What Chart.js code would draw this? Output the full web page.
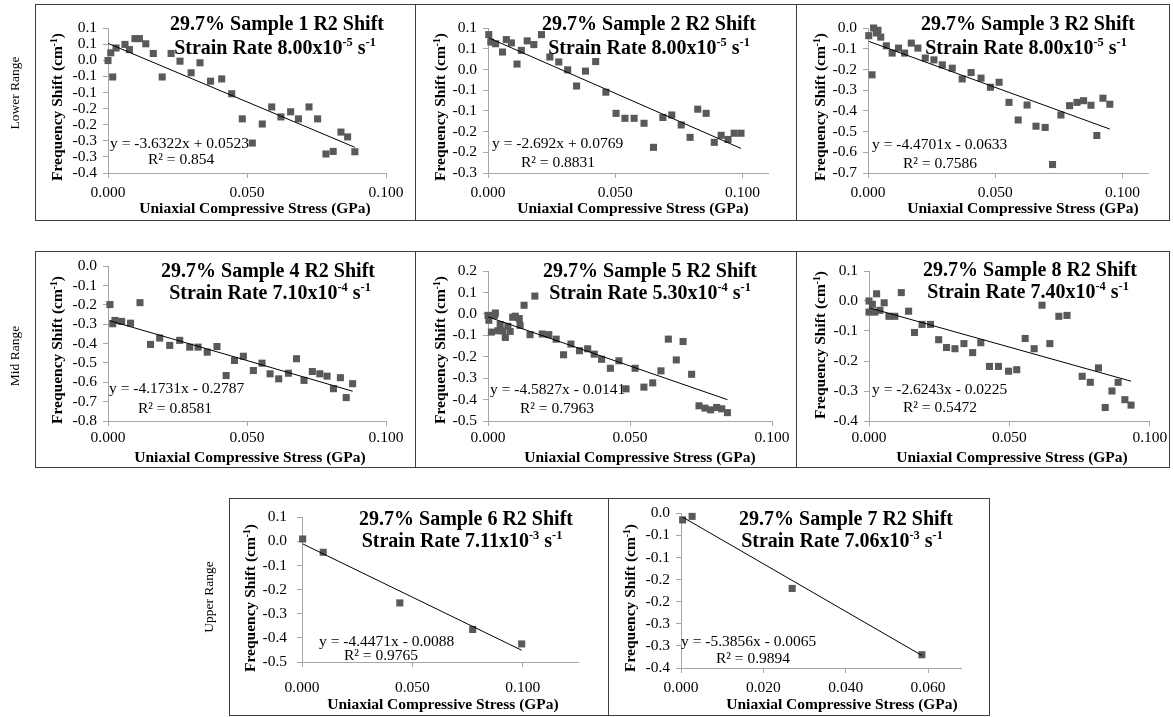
<!DOCTYPE html>
<html><head><meta charset="utf-8">
<script src="https://cdn.jsdelivr.net/npm/chart.js@4.4.1/dist/chart.umd.min.js"></script>
<style>
html,body{margin:0;padding:0;background:#fff;}
#wrap{position:relative;width:1173px;height:717px;overflow:hidden;background:#fff;font-family:"Liberation Serif","Times New Roman",Times,serif;}
.bd{position:absolute;box-sizing:border-box;border:1px solid #3f3f3f;pointer-events:none;}
.range{position:absolute;transform:translate(-50%,-50%) rotate(-90deg);white-space:nowrap;font-size:13.5px;line-height:1;color:#000;}
</style></head>
<body><div id="wrap"></div>
<script>
// ---------------- DATA ----------------
const s1x = [0.000,0.001,0.0017,0.0029,0.0061,0.0077,0.0097,0.0113,0.0136,0.0163,0.0195,0.0227,0.0259,0.0299,0.0331,0.0369,0.0409,0.0445,0.0483,0.0519,0.0555,0.0589,0.0622,0.0657,0.0685,0.0723,0.0754,0.0784,0.081,0.0838,0.0862,0.0888];
const s1y = [-0.001,0.023,-0.052,0.038,0.049,0.033,0.067,0.067,0.051,0.021,-0.052,0.021,-0.003,-0.039,-0.008,-0.065,-0.058,-0.104,-0.182,-0.257,-0.198,-0.145,-0.176,-0.160,-0.182,-0.145,-0.182,-0.291,-0.283,-0.223,-0.238,-0.284];

const s2x = [0.0003,0.0011,0.003,0.0057,0.0072,0.0092,0.0114,0.0131,0.0154,0.018,0.021,0.0243,0.0278,0.0313,0.0348,0.0383,0.0423,0.0463,0.0503,0.0538,0.0574,0.0613,0.065,0.0687,0.0722,0.0759,0.0794,0.0824,0.0857,0.0889,0.0916,0.0943,0.0967,0.0994];
const s2y = [0.084,0.066,0.062,0.042,0.072,0.064,0.013,0.046,0.069,0.060,0.084,0.030,0.018,-0.001,-0.040,-0.004,0.019,-0.055,-0.106,-0.118,-0.118,-0.130,-0.188,-0.116,-0.110,-0.134,-0.164,-0.096,-0.106,-0.176,-0.159,-0.169,-0.154,-0.154];

const s3x = [0.0003,0.0016,0.0022,0.0033,0.0039,0.0050,0.0072,0.0095,0.0120,0.0144,0.0170,0.0196,0.0225,0.0259,0.0292,0.0331,0.0370,0.0405,0.0444,0.0481,0.0515,0.0554,0.0590,0.0625,0.0660,0.0696,0.0725,0.0758,0.0792,0.0821,0.0847,0.0876,0.0899,0.0923,0.0950];
const s3y = [-0.037,-0.226,0.000,-0.024,-0.011,-0.044,-0.086,-0.121,-0.097,-0.121,-0.073,-0.097,-0.145,-0.154,-0.178,-0.194,-0.246,-0.215,-0.242,-0.286,-0.262,-0.359,-0.444,-0.372,-0.474,-0.480,-0.659,-0.420,-0.375,-0.359,-0.351,-0.373,-0.519,-0.339,-0.368];

const s4x = [0.0007,0.0017,0.0025,0.0049,0.0081,0.0115,0.0153,0.0186,0.0222,0.0258,0.0294,0.0324,0.0357,0.0392,0.0425,0.0455,0.0487,0.0523,0.0554,0.0583,0.0614,0.0649,0.0678,0.0705,0.0735,0.0762,0.0788,0.0811,0.0836,0.0857,0.0880];
const s4y = [-0.198,-0.297,-0.280,-0.285,-0.294,-0.188,-0.404,-0.371,-0.409,-0.383,-0.418,-0.418,-0.444,-0.415,-0.565,-0.487,-0.465,-0.539,-0.501,-0.556,-0.582,-0.553,-0.478,-0.590,-0.544,-0.556,-0.568,-0.633,-0.576,-0.679,-0.607];

const s5x = [0.000,0.0003,0.0012,0.0023,0.0026,0.0035,0.0043,0.0052,0.0061,0.0070,0.0078,0.0087,0.0096,0.0110,0.0113,0.0127,0.0148,0.0165,0.0191,0.0214,0.0240,0.0266,0.0292,0.0322,0.0351,0.0374,0.0400,0.0431,0.0461,0.0486,0.0518,0.0549,0.0580,0.0609,0.0635,0.0663,0.0687,0.0717,0.0743,0.0764,0.0784,0.0805,0.0823,0.0843];
const s5y = [-0.007,-0.030,-0.085,-0.007,0.004,-0.079,-0.050,-0.079,-0.110,-0.058,-0.082,-0.016,-0.011,-0.022,-0.054,0.040,-0.097,0.083,-0.094,-0.097,-0.118,-0.191,-0.141,-0.172,-0.163,-0.188,-0.212,-0.254,-0.219,-0.350,-0.254,-0.342,-0.322,-0.266,-0.118,-0.215,-0.129,-0.282,-0.429,-0.440,-0.448,-0.437,-0.443,-0.461];

const s8x = [0.000,0.000,0.0012,0.0021,0.0027,0.0039,0.0054,0.0071,0.0092,0.0115,0.0141,0.0162,0.0189,0.0219,0.0248,0.0276,0.0306,0.0338,0.0369,0.0398,0.0429,0.0461,0.0497,0.0526,0.0556,0.0588,0.0616,0.0644,0.0676,0.0705,0.0759,0.0788,0.0817,0.0841,0.0865,0.0887,0.0911,0.0933];
const s8y = [0.000,-0.037,-0.011,-0.037,0.024,-0.031,-0.006,-0.051,-0.051,0.028,-0.034,-0.105,-0.078,-0.078,-0.129,-0.155,-0.159,-0.142,-0.172,-0.139,-0.218,-0.218,-0.234,-0.229,-0.125,-0.159,-0.014,-0.142,-0.051,-0.048,-0.251,-0.271,-0.223,-0.355,-0.300,-0.271,-0.329,-0.347];

const s6x = [0.0003,0.0096,0.0443,0.0773,0.0995];
const s6y = [0.010,-0.045,-0.255,-0.365,-0.425];

const s7x = [0.0004,0.0027,0.027,0.0585];
const s7y = [-0.015,-0.007,-0.170,-0.320];

const sampleNo = ['1','2','3','4','5','8','6','7'];
const rateVal  = ['8.00','8.00','8.00','7.10','5.30','7.40','7.11','7.06'];
const rateExp  = ['-5','-5','-5','-4','-4','-4','-3','-3'];
const slopes     = [-3.6322,-2.692,-4.4701,-4.1731,-4.5827,-2.6243,-4.4471,-5.3856];
const intercepts = [0.0523,0.0769,-0.0633,-0.2787,-0.0141,-0.0225,-0.0088,-0.0065];
const r2Text     = ['0.854','0.8831','0.7586','0.8581','0.7963','0.5472','0.9765','0.9894'];

const yt1 = [-0.35,-0.3,-0.25,-0.2,-0.15,-0.1,-0.05,0,0.05,0.1];
const yt2 = [-0.25,-0.2,-0.15,-0.1,-0.05,0,0.05,0.1];
const yt3 = [-0.7,-0.6,-0.5,-0.4,-0.3,-0.2,-0.1,0];
const yt4 = [-0.8,-0.7,-0.6,-0.5,-0.4,-0.3,-0.2,-0.1,0];
const yt5 = [-0.5,-0.4,-0.3,-0.2,-0.1,0,0.1,0.2];
const yt8 = [-0.4,-0.3,-0.2,-0.1,0,0.1];
const yt6 = [-0.5,-0.4,-0.3,-0.2,-0.1,0,0.1];
const yt7 = [-0.35,-0.3,-0.25,-0.2,-0.15,-0.1,-0.05,0];
const xtA = [0,0.05,0.1];
const xt7 = [0,0.02,0.04,0.06];
const xMaxAll = [0.1,0.11,0.11,0.1,0.1,0.1,0.125,0.068];

const rangeNames = ['Lower Range','Mid Range','Upper Range'];
const xTitle = 'Uniaxial Compressive Stress (GPa)';

const xsAll = [s1x,s2x,s3x,s4x,s5x,s8x,s6x,s7x];
const ysAll = [s1y,s2y,s3y,s4y,s5y,s8y,s6y,s7y];
const yTicksAll = [yt1,yt2,yt3,yt4,yt5,yt8,yt6,yt7];
const xTicksAll = [xtA,xtA,xtA,xtA,xtA,xtA,xtA,xt7];

// ---------------- LAYOUT (pixels) ----------------
const LAYOUT = [
 {box:[35,4,416,221],   plot:[108,28,386,173], t1:[277,23],  t2:[275,47],  eq:[110,143], r2:[148,159], yt:[57,107],  xl:193, xt:[255,208], yp:6},
 {box:[415,4,797,221],  plot:[488,28,768,173], t1:[649,23],  t2:[649,47],  eq:[492,143], r2:[521,162], yt:[440,107], xl:193, xt:[633,208], yp:6},
 {box:[796,4,1170,221], plot:[868,28,1148,173],t1:[1028,23], t2:[1026,47], eq:[872,144], r2:[903,163], yt:[820,107], xl:193, xt:[1023,208], yp:6},
 {box:[35,251,416,468], plot:[108,266,386,421],t1:[268,270], t2:[270,292], eq:[109,388], r2:[138,408], yt:[57,350],  xl:438, xt:[250,457], yp:6},
 {box:[415,251,797,468],plot:[488,271,772,421],t1:[650,270], t2:[650,292], eq:[490,389], r2:[520,408], yt:[440,350], xl:438, xt:[640,457], yp:6},
 {box:[796,251,1170,468],plot:[869,271,1153,421],t1:[1030,269],t2:[1028,291],eq:[872,389], r2:[903,407], yt:[820,345], xl:438, xt:[1012,457], yp:6},
 {box:[229,498,609,716],plot:[302,512,578,662],t1:[466,518], t2:[462,540], eq:[319,641], r2:[344,655], yt:[250,598], xl:688, xt:[443,704], yp:10},
 {box:[608,498,990,716],plot:[681,512,961,668],t1:[846,518], t2:[842,540], eq:[681,641], r2:[716,658], yt:[630,598], xl:688, xt:[842,704], yp:6}
];
const RANGE_POS = [[15,93],[15,356],[209,597]];

const FAM = '"Liberation Serif","Times New Roman",Times,serif';
const wrap = document.getElementById('wrap');

function fmtY(v){
  const r = Math.sign(v)*Math.round(Math.abs(v)*10+1e-9)/10;
  if (r === 0) return '0.0';
  return r.toFixed(1);
}
function drawRich(ctx, parts, x, y, size, bold, align){
  const sup = size*0.62;
  let w = 0;
  for (const [t,s] of parts){ ctx.font=(bold?'bold ':'')+(s?sup:size)+'px '+FAM; w += ctx.measureText(t).width; }
  let cx = align==='center' ? x - w/2 : x;
  for (const [t,s] of parts){
    ctx.font=(bold?'bold ':'')+(s?sup:size)+'px '+FAM;
    ctx.fillText(t, cx, s ? y - size*0.36 : y);
    cx += ctx.measureText(t).width;
  }
}

function makeChart(i){
  const Lo = LAYOUT[i];
  const [bx1,by1,bx2,by2] = Lo.box;
  const [pl,pt,pr,pb] = Lo.plot;
  const W = bx2-bx1, H = by2-by1;
  const canvas = document.createElement('canvas');
  canvas.width = W; canvas.height = H;
  canvas.style.cssText = `position:absolute;left:${bx1}px;top:${by1}px;width:${W}px;height:${H}px;`;
  wrap.appendChild(canvas);
  const xs = xsAll[i], ys = ysAll[i];
  const pts = xs.map((x,k)=>({x:x, y:ys[k]}));
  const xmin = Math.min(...xs), xmax = Math.max(...xs);
  const trend = [{x:xmin, y:slopes[i]*xmin+intercepts[i]},{x:xmax, y:slopes[i]*xmax+intercepts[i]}];
  const yt = yTicksAll[i], xt = xTicksAll[i];
  const fs = 15.5, lh = fs*1.2;
  const xPad = (Lo.xl - pb) - 5 - lh/2;
  const eqText = 'y = ' + slopes[i] + 'x ' + (intercepts[i] >= 0 ? '+ ' : '- ') + Math.abs(intercepts[i]);
  const gridCfg = {drawOnChartArea:false, drawTicks:true, tickLength:5, color:'#a6a6a6', lineWidth:1};
  new Chart(canvas, {
    type:'scatter',
    data:{datasets:[
      {data:trend, showLine:true, borderColor:'#000', borderWidth:1, pointRadius:0, pointHoverRadius:0, fill:false, clip:false},
      {data:pts, pointStyle:'rect', pointRadius:5, pointHoverRadius:5, backgroundColor:'#595959', borderColor:'#595959', borderWidth:0, clip:false}
    ]},
    options:{
      responsive:false, animation:false, devicePixelRatio:1, events:[],
      layout:{padding:{left:0, top:pt-by1, right:bx2-pr, bottom:0}},
      plugins:{legend:{display:false}, tooltip:{enabled:false}, title:{display:false}},
      scales:{
        x:{type:'linear', min:0, max:xMaxAll[i],
          afterBuildTicks:(s)=>{ s.ticks = xt.map(v=>({value:v})); },
          afterFit:(s)=>{ s.height = by2 - pb; },
          ticks:{font:{family:FAM,size:fs}, color:'#000', padding:xPad, autoSkip:false, maxRotation:0, minRotation:0,
                 callback:(v)=>Number(v).toFixed(3)},
          grid:gridCfg, border:{display:true, color:'#a6a6a6', width:1},
          title:{display:false, text:xTitle}
        },
        y:{type:'linear', min:yt[0], max:yt[yt.length-1],
          afterBuildTicks:(s)=>{ s.ticks = yt.map(v=>({value:v})); },
          afterFit:(s)=>{ s.width = pl - bx1; },
          ticks:{font:{family:FAM,size:fs}, color:'#000', padding:Lo.yp, autoSkip:false, callback:(v)=>fmtY(v)},
          grid:gridCfg, border:{display:true, color:'#a6a6a6', width:1}
        }
      }
    },
    plugins:[{id:'txt'+i, afterDraw(chart){
      const ctx = chart.ctx;
      ctx.save();
      ctx.fillStyle = '#000'; ctx.textBaseline = 'alphabetic';
      drawRich(ctx, [['29.7% Sample '+sampleNo[i]+' R2 Shift',0]], Lo.t1[0]-bx1, Lo.t1[1]-by1+6.6, 20, true, 'center');
      drawRich(ctx, [['Strain Rate '+rateVal[i]+'x10',0],[rateExp[i],1],[' s',0],['-1',1]], Lo.t2[0]-bx1, Lo.t2[1]-by1+6.6, 20, true, 'center');
      drawRich(ctx, [[eqText,0]], Lo.eq[0]-bx1, Lo.eq[1]-by1+fs*0.33, fs, false, 'left');
      drawRich(ctx, [['R² = '+r2Text[i],0]], Lo.r2[0]-bx1, Lo.r2[1]-by1+fs*0.33, fs, false, 'left');
      drawRich(ctx, [[xTitle,0]], Lo.xt[0]-bx1, Lo.xt[1]-by1+fs*0.33, fs, true, 'center');
      ctx.translate(Lo.yt[0]-bx1, Lo.yt[1]-by1);
      ctx.rotate(-Math.PI/2);
      drawRich(ctx, [['Frequency Shift (cm',0],['-1',1],[')',0]], 0, fs*0.33, fs, true, 'center');
      ctx.restore();
    }}]
  });
  const bd = document.createElement('div');
  bd.className = 'bd';
  bd.style.cssText = `left:${bx1}px;top:${by1}px;width:${W}px;height:${H}px;`;
  wrap.appendChild(bd);
}

for (let i=0;i<LAYOUT.length;i++) makeChart(i);

rangeNames.forEach((n,k)=>{
  const d = document.createElement('div');
  d.className = 'range';
  d.textContent = n;
  d.style.left = RANGE_POS[k][0]+'px';
  d.style.top = RANGE_POS[k][1]+'px';
  wrap.appendChild(d);
});
</script>
</body></html>
